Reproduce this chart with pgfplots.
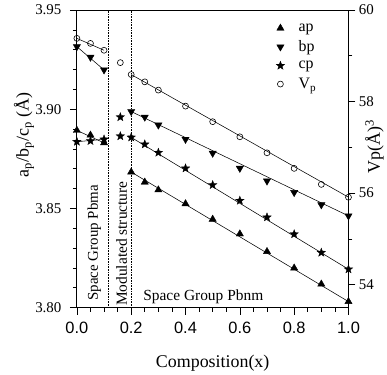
\documentclass[border=0pt]{standalone}
\usepackage{fontspec}
\setmainfont{Liberation Serif}
\setsansfont{Liberation Sans}
\usepackage{pgfplots}
\pgfplotsset{compat=1.18}
\pgfdeclareplotmark{fstar}{%
  \pgfpathmoveto{\pgfqpointpolar{90}{\pgfplotmarksize}}%
  \pgfpathlineto{\pgfqpointpolar{126}{0.42\pgfplotmarksize}}%
  \pgfpathlineto{\pgfqpointpolar{162}{\pgfplotmarksize}}%
  \pgfpathlineto{\pgfqpointpolar{198}{0.42\pgfplotmarksize}}%
  \pgfpathlineto{\pgfqpointpolar{234}{\pgfplotmarksize}}%
  \pgfpathlineto{\pgfqpointpolar{270}{0.42\pgfplotmarksize}}%
  \pgfpathlineto{\pgfqpointpolar{306}{\pgfplotmarksize}}%
  \pgfpathlineto{\pgfqpointpolar{342}{0.42\pgfplotmarksize}}%
  \pgfpathlineto{\pgfqpointpolar{18}{\pgfplotmarksize}}%
  \pgfpathlineto{\pgfqpointpolar{54}{0.42\pgfplotmarksize}}%
  \pgfpathclose
  \pgfusepathqfillstroke}
\begin{document}
\begin{tikzpicture}
\pgfplotsset{
  common/.style={scale only axis, width=272bp, height=298bp, xmin=0, xmax=1,
    tick align=outside, major tick length=7bp, minor tick length=4bp,
    every tick/.style={black, line width=0.6pt},
    axis line style={line width=0.8pt},
    label style={font=\fontsize{18}{21}\selectfont},
    y tick label style={font=\fontsize{15}{16}\selectfont, /pgf/number format/assume math mode=true},
  },
  mk/.style={only marks, mark options={solid, fill=black, draw=black}},
  ln/.style={black, line width=0.55pt, no marks, forget plot},
}
\begin{axis}[common, name=main,
  ymin=3.80, ymax=3.95,
  xtick={0,0.2,...,1.0}, minor x tick num=3,
  ytick={3.80,3.85,3.90,3.95}, minor y tick num=4,
  xtick pos=bottom, ytick pos=left,
  x tick label style={font=\sffamily\fontsize{16.5}{17}\selectfont, yshift=-4bp, /pgf/number format/.cd, fixed, fixed zerofill, precision=1, assume math mode=true},
  y tick label style={xshift=-5bp, /pgf/number format/.cd, fixed, fixed zerofill, precision=2},
  xlabel={Composition(x)},
  xlabel style={at={(rel axis cs:0.5,0)}, anchor=center, yshift=-56bp},
  ylabel={a\textsubscript{p}/b\textsubscript{p}/c\textsubscript{p} (Å)},
  ylabel style={at={(rel axis cs:0,0.58)}, anchor=center, yshift=53bp},
  legend style={draw=none, fill=none, at={(0.722,0.968)}, anchor=north west,
    font=\fontsize{16}{18}\selectfont, row sep=4bp,
    /tikz/every odd column/.append style={column sep=12bp}},
  legend cell align=left,
]
% vertical separators
\addplot[black, densely dotted, line width=0.6pt, forget plot] coordinates {(0.115,3.80) (0.115,3.95)};
\addplot[black, densely dotted, line width=0.6pt, forget plot] coordinates {(0.2,3.80) (0.2,3.95)};
% fit lines
\addplot[ln] coordinates {(0,3.8893) (0.1,3.8830)};
\addplot[ln] coordinates {(0.2,3.8683) (1.0,3.8030)};
\addplot[ln] coordinates {(0,3.9315) (0.1,3.9198)};
\addplot[ln] coordinates {(0.2,3.8988) (1.0,3.8462)};
\addplot[ln] coordinates {(0,3.8836) (0.1,3.8848)};
\addplot[ln] coordinates {(0.2,3.8858) (1.0,3.8193)};
% data
\addplot[mk, mark=triangle*, mark size=4.2pt] coordinates {
(0,3.8893)(0.05,3.8869)(0.1,3.8830)
(0.2,3.8683)(0.25,3.8632)(0.3,3.8593)(0.4,3.8523)(0.5,3.8445)(0.6,3.8371)(0.7,3.8282)(0.8,3.8199)(0.9,3.8118)(1.0,3.8030)};
\addlegendentry{ap}
\addplot[mk, mark=triangle*, mark size=4.2pt, mark options={rotate=180}] coordinates {
(0,3.9315)(0.05,3.9262)(0.1,3.9198)
(0.2,3.8988)(0.25,3.8960)(0.3,3.8920)(0.4,3.8848)(0.5,3.8778)(0.6,3.8702)(0.7,3.8638)(0.8,3.8580)(0.9,3.8518)(1.0,3.8462)};
\addlegendentry{bp}
\addplot[mk, mark=fstar, mark size=4.5pt, mark options={line width=0.3pt}] coordinates {
(0,3.8836)(0.05,3.8840)(0.1,3.8848)(0.16,3.8960)(0.16,3.8864)
(0.2,3.8858)(0.25,3.8823)(0.3,3.8781)(0.4,3.8702)(0.5,3.8618)(0.6,3.8539)(0.7,3.8455)(0.8,3.8370)(0.9,3.8277)(1.0,3.8193)};
\addlegendentry{cp}
\addlegendimage{only marks, mark=o, mark size=3pt, black, mark options={fill=white, line width=0.6pt}}
\addlegendentry{V\textsubscript{p}}
% annotations
\node[rotate=90, anchor=west, font=\fontsize{15}{16}\selectfont, inner sep=0pt] at (axis cs:0.064,3.8035) {Space Group Pbma};
\node[rotate=90, anchor=west, font=\fontsize{15.5}{16}\selectfont, inner sep=0pt] at (axis cs:0.165,3.8007) {Modulated structure};
\node[anchor=base west, font=\fontsize{15.5}{16}\selectfont, inner sep=0pt] at (axis cs:0.244,3.8037) {Space Group Pbnm};
\end{axis}
\begin{axis}[common,
  ymin=53.5, ymax=60,
  axis x line=none, axis y line*=right,
  ytick={54,56,58,60}, minor y tick num=1,
  ylabel={Vp(Å)\textsuperscript{3}},
  ylabel style={at={(rel axis cs:1,0.54)}, anchor=center, yshift=-26bp},
]
\addplot[ln] coordinates {(0,59.38) (0.1,59.12)};
\addplot[ln] coordinates {(0.2,58.59) (1.0,55.91)};
\addplot[only marks, mark=o, mark size=3pt, black, mark options={fill=white, line width=0.6pt}] coordinates {
(0,59.38)(0.05,59.27)(0.1,59.12)(0.16,58.85)(0.2,58.59)(0.25,58.43)(0.3,58.25)(0.4,57.90)(0.5,57.56)(0.6,57.23)(0.7,56.88)(0.8,56.54)(0.9,56.19)(1.0,55.91)};
\end{axis}
\path (main.south west) ++(-77bp,-63bp) coordinate (bbA);
\path (main.north east) ++(38bp,10bp) coordinate (bbB);
\path (bbA) rectangle (bbB);
\end{tikzpicture}
\end{document}
